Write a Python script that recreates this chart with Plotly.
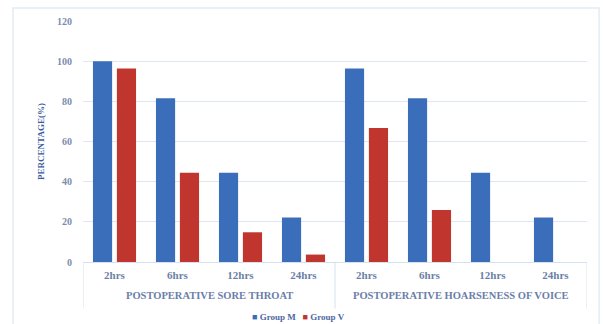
import plotly.graph_objects as go

# Categories
outcomes = ["POSTOPERATIVE SORE THROAT", "POSTOPERATIVE HOARSENESS OF VOICE"]
times = ["2hrs", "6hrs", "12hrs", "24hrs"]

# Percentage of patients per group (n = 27 per group)
group_m = [100.0, 81.5, 44.4, 22.2, 96.3, 81.5, 44.4, 22.2]
group_v = [96.3, 44.4, 14.8, 3.7, 66.7, 25.9, 0.0, 0.0]

series = [("Group M", group_m, "#3a6eba"), ("Group V", group_v, "#c0362f")]

y_ticks = [0, 20, 40, 60, 80, 100, 120]

# one slot per (outcome, time) pair
x_labels = times * len(outcomes)
x_pos = list(range(len(x_labels)))
n_t = len(times)

serif = "Liberation Serif"
label_col = "#6c7fa8"
line_col = "#d7e0ee"

fig = go.Figure()
for name, vals, col in series:
    fig.add_trace(go.Bar(name=name, x=x_pos, y=vals,
                         marker=dict(color=col, line=dict(width=0)),
                         showlegend=False))

# compact key below the chart: coloured square followed by the series name
key = "   ".join(f'<span style="color:{col}">■</span> {name}' for name, _, col in series)
fig.add_annotation(x=0.4266, xref="paper", y=-0.2266, yref="paper",
                   xanchor="center", yanchor="middle", showarrow=False, text=key,
                   font=dict(family=serif, size=9, color="#4d68a3", weight="bold"))

# outcome group labels and the boxes around each group
for g, outcome in enumerate(outcomes):
    lo, hi = g * n_t, (g + 1) * n_t - 1
    fig.add_annotation(x=(lo + hi) / 2, xref="x", y=-0.139, yref="paper",
                       text=f"<b>{outcome}</b>", showarrow=False, yanchor="middle",
                       font=dict(family=serif, size=10.5, color="#6a7ea9"))
for b in range(len(outcomes) + 1):
    xb = b * n_t - 0.5
    fig.add_shape(type="line", xref="x", yref="paper", x0=xb, x1=xb,
                  y0=0, y1=-0.193, line=dict(color=line_col, width=1))

# light chart frame
fig.add_shape(type="rect", xref="paper", yref="paper",
              x0=-0.139, x1=1.024, y0=-0.30, y1=1.054,
              line=dict(color="#e4ebf5", width=1.5), layer="below")

fig.update_layout(
    width=603, height=324,
    margin=dict(l=83, r=16, t=21, b=62),
    paper_bgcolor="white", plot_bgcolor="white",
    barmode="group", bargap=0.24, bargroupgap=0.2,
    font=dict(family=serif, color=label_col),
    showlegend=False,
    xaxis=dict(range=[-0.5, len(x_pos) - 0.5], tickvals=x_pos, ticktext=x_labels,
               showline=True, linecolor=line_col, linewidth=1, showgrid=False,
               zeroline=False, ticks="", ticklabelstandoff=3, automargin=False,
               tickfont=dict(family=serif, size=11, color=label_col, weight="bold")),
    yaxis=dict(range=[0, 120], tickvals=y_ticks, showgrid=True,
               gridcolor="#dde6f2", gridwidth=1, zeroline=False,
               showline=False, ticklabelstandoff=10, automargin=False,
               tickfont=dict(family=serif, size=10, color="#7d8cad", weight="bold"),
               title=dict(text="PERCENTAGE(%)", standoff=10,
                          font=dict(family=serif, size=9, color="#3a5b9c", weight="bold"))),
)

fig.write_html("out.html")
